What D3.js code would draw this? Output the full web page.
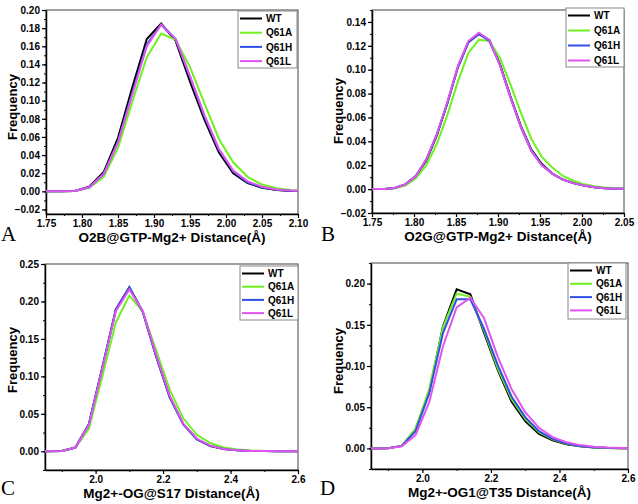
<!DOCTYPE html>
<html>
<head>
<meta charset="utf-8">
<script src="https://cdn.jsdelivr.net/npm/d3@7/dist/d3.min.js"></script>
<style>
  html, body { margin: 0; padding: 0; background: #fff; }
  svg { display: block; }
  .tick text { font-family: "Liberation Sans", Arial, sans-serif; font-weight: bold; font-size: 10px; fill: #000; }
</style>
</head>
<body>
<svg id="chart" width="638" height="504"></svg>
<script>
// ---------- data ----------
const seriesNames = ["WT", "Q61A", "Q61H", "Q61L"];
const seriesColors = ["#000000", "#70f020", "#3050e8", "#e055f0"];

// Panel A: O2B@GTP-Mg2+
const xA = [1.75,1.77,1.79,1.81,1.83,1.85,1.87,1.89,1.91,1.93,1.95,1.97,1.99,2.01,2.03,2.05,2.07,2.09,2.11];
const aWT   = [0,0,0.0005,0.005,0.021,0.059,0.115,0.168,0.185,0.166,0.121,0.079,0.043,0.020,0.009,0.004,0.0015,0.0005,0.0002];
const aQ61A = [0,0,0.0004,0.004,0.016,0.048,0.099,0.148,0.174,0.167,0.137,0.097,0.058,0.032,0.016,0.0075,0.0035,0.0015,0.0007];
const aQ61H = [0,0,0.0005,0.0045,0.019,0.055,0.109,0.162,0.184,0.168,0.126,0.083,0.046,0.022,0.010,0.0045,0.0018,0.0007,0.0003];
const aQ61L = [0,0,0.0005,0.0045,0.019,0.054,0.107,0.160,0.184,0.168,0.127,0.084,0.047,0.023,0.011,0.005,0.002,0.0008,0.0003];
const aXTicks = [1.75,1.80,1.85,1.90,1.95,2.00,2.05,2.10];
const aYTicks = [-0.02,0.00,0.02,0.04,0.06,0.08,0.10,0.12,0.14,0.16,0.18,0.20];

// Panel B: O2G@GTP-Mg2+
const xB = [1.7397,1.7522,1.7647,1.7772,1.7897,1.8022,1.8147,1.8272,1.8397,1.8522,1.8647,1.8772,1.8897,1.9022,1.9147,1.9272,1.9397,1.9522,1.9647,1.9772,1.9897,2.0022,2.0147,2.0272,2.0397,2.0522];
const bWT   = [0,0,0,0.001,0.004,0.011,0.024,0.045,0.072,0.102,0.123,0.130,0.125,0.105,0.078,0.053,0.033,0.021,0.013,0.008,0.005,0.003,0.0015,0.0008,0.0004,0.0002];
const bQ61A = [0,0,0,0.0008,0.003,0.009,0.020,0.038,0.062,0.090,0.114,0.125,0.124,0.110,0.088,0.064,0.042,0.027,0.018,0.011,0.007,0.004,0.0025,0.0013,0.0007,0.0003];
const bQ61H = [0,0,0,0.001,0.004,0.011,0.025,0.046,0.072,0.102,0.123,0.130,0.124,0.104,0.077,0.052,0.032,0.020,0.013,0.008,0.005,0.003,0.0015,0.0008,0.0004,0.0002];
const bQ61L = [0,0,0,0.001,0.004,0.011,0.025,0.046,0.073,0.103,0.124,0.131,0.125,0.104,0.077,0.052,0.032,0.020,0.013,0.008,0.005,0.003,0.0015,0.0008,0.0004,0.0002];
const bXTicks = [1.75,1.80,1.85,1.90,1.95,2.00,2.05];
const bYTicks = [-0.02,0.00,0.02,0.04,0.06,0.08,0.10,0.12,0.14];

// Panel C: Mg2+-OG@S17
const xC = [1.82,1.86,1.90,1.94,1.98,2.02,2.06,2.10,2.14,2.18,2.22,2.26,2.30,2.34,2.38,2.42,2.46,2.50,2.54,2.58,2.62];
const cWT   = [0,0,0.0005,0.005,0.036,0.112,0.189,0.219,0.186,0.126,0.072,0.036,0.016,0.007,0.003,0.0012,0.0005,0.0002,0,0,0];
const cQ61A = [0,0,0.0004,0.005,0.030,0.100,0.172,0.208,0.186,0.134,0.082,0.044,0.022,0.011,0.005,0.0025,0.001,0.0005,0.0002,0,0];
const cQ61H = [0,0,0.0005,0.005,0.036,0.112,0.189,0.219,0.186,0.126,0.072,0.036,0.016,0.0072,0.003,0.0012,0.0005,0.0002,0,0,0];
const cQ61L = [0,0,0.0005,0.005,0.035,0.110,0.187,0.216,0.187,0.128,0.074,0.037,0.017,0.0075,0.003,0.0012,0.0005,0.0002,0,0,0];
const cXTicks = [2.0,2.2,2.4,2.6];
const cYTicks = [0.00,0.05,0.10,0.15,0.20,0.25];

// Panel D: Mg2+-OG1@T35
const xD = [1.82,1.86,1.90,1.94,1.98,2.02,2.06,2.10,2.14,2.18,2.22,2.26,2.30,2.34,2.38,2.42,2.46,2.50,2.54,2.58,2.62];
const dWT   = [0,0,0.0003,0.003,0.023,0.069,0.148,0.193,0.187,0.140,0.095,0.057,0.033,0.0177,0.0097,0.005,0.0025,0.0012,0.0005,0.0002,0];
const dQ61A = [0,0,0.0003,0.003,0.024,0.072,0.147,0.188,0.184,0.143,0.097,0.060,0.036,0.0197,0.011,0.0055,0.003,0.0014,0.0006,0.0002,0];
const dQ61H = [0,0,0.0003,0.003,0.021,0.067,0.140,0.181,0.181,0.145,0.101,0.063,0.038,0.021,0.0117,0.006,0.003,0.0015,0.0007,0.0003,0];
const dQ61L = [0,0,0.0002,0.0025,0.016,0.056,0.124,0.171,0.183,0.158,0.111,0.072,0.044,0.025,0.0137,0.0075,0.004,0.002,0.001,0.0004,0];
const dXTicks = [2.0,2.2,2.4,2.6];
const dYTicks = [0.00,0.05,0.10,0.15,0.20];

const panelLetters = ["A", "B", "C", "D"];
const xTitles = ["O2B@GTP-Mg2+ Distance(Å)", "O2G@GTP-Mg2+ Distance(Å)", "Mg2+-OG@S17 Distance(Å)", "Mg2+-OG1@T35 Distance(Å)"];
const yTitle = "Frequency";

// ---------- layout ----------
const panels = [
  { x: xA, ys: [aWT, aQ61A, aQ61H, aQ61L], xDom: [1.75, 2.10], yDom: [-0.025, 0.20], xt: aXTicks, yt: aYTicks, xMinor: 0.025, yMinor: 0.01,
    l: 46, r: 298, t: 10, b: 214, xf: ".2f", yf: ".2f", leg: { x: 238, y: 11, w: 59, h: 57, dy: 14.2 }, letter: { x: 1, y: 241 }, ytx: 12, yty: 107 },
  { x: xB, ys: [bWT, bQ61A, bQ61H, bQ61L], xDom: [1.75, 2.05], yDom: [-0.02, 0.15], xt: bXTicks, yt: bYTicks, xMinor: 0.025, yMinor: 0.01,
    l: 372, r: 624, t: 10, b: 213, xf: ".2f", yf: ".2f", leg: { x: 566, y: 8, w: 58, h: 59, dy: 15 }, letter: { x: 321, y: 241 }, ytx: 338, yty: 111 },
  { x: xC, ys: [cWT, cQ61A, cQ61H, cQ61L], xDom: [1.85, 2.6], yDom: [-0.025, 0.25], xt: cXTicks, yt: cYTicks, xMinor: 0.1, yMinor: 0.025,
    l: 45, r: 298, t: 264, b: 470, xf: ".1f", yf: ".2f", leg: { x: 240, y: 266, w: 58, h: 54, dy: 13.2 }, letter: { x: 1, y: 495 }, ytx: 12, yty: 360 },
  { x: xD, ys: [dWT, dQ61A, dQ61H, dQ61L], xDom: [1.85, 2.6], yDom: [-0.025, 0.225], xt: dXTicks, yt: dYTicks, xMinor: 0.1, yMinor: 0.025,
    l: 371, r: 628, t: 263, b: 469, xf: ".1f", yf: ".2f", leg: { x: 568, y: 263, w: 58, h: 56, dy: 13.3 }, letter: { x: 320, y: 495 }, ytx: 338, yty: 361 }
];

const svg = d3.select("#chart");
const FONT = "'Liberation Sans', Arial, sans-serif";

panels.forEach((p, i) => {
  const g = svg.append("g");
  const xs = d3.scaleLinear().domain(p.xDom).range([p.l, p.r]);
  const ys = d3.scaleLinear().domain(p.yDom).range([p.b, p.t]);

  const clipId = "clip" + i;
  svg.append("clipPath").attr("id", clipId).append("rect")
    .attr("x", p.l).attr("y", p.t).attr("width", p.r - p.l).attr("height", p.b - p.t);

  // frame
  g.append("rect").attr("x", p.l).attr("y", p.t).attr("width", p.r - p.l).attr("height", p.b - p.t)
    .attr("fill", "none").attr("stroke", "#444").attr("stroke-width", 1);

  // minor ticks
  const xMin = d3.range(Math.ceil(p.xDom[0] / p.xMinor - 1e-6), Math.floor(p.xDom[1] / p.xMinor + 1e-6) + 1).map(k => k * p.xMinor);
  const yMin = d3.range(Math.ceil(p.yDom[0] / p.yMinor - 1e-6), Math.floor(p.yDom[1] / p.yMinor + 1e-6) + 1).map(k => k * p.yMinor);
  g.append("g").attr("transform", `translate(0,${p.b})`)
    .call(d3.axisBottom(xs).tickValues(xMin).tickSize(2).tickFormat(""))
    .call(a => a.select(".domain").remove())
    .call(a => a.selectAll("line").attr("stroke", "#000").attr("stroke-width", 1));
  g.append("g").attr("transform", `translate(${p.l},0)`)
    .call(d3.axisLeft(ys).tickValues(yMin).tickSize(2).tickFormat(""))
    .call(a => a.select(".domain").remove())
    .call(a => a.selectAll("line").attr("stroke", "#000").attr("stroke-width", 1));

  // major axes
  const xa = g.append("g").attr("transform", `translate(0,${p.b})`)
    .call(d3.axisBottom(xs).tickValues(p.xt).tickSize(4).tickPadding(2).tickSizeOuter(0).tickFormat(d3.format(p.xf)));
  const ya = g.append("g").attr("transform", `translate(${p.l},0)`)
    .call(d3.axisLeft(ys).tickValues(p.yt).tickSize(4).tickPadding(2).tickSizeOuter(0).tickFormat(d3.format(p.yf)));
  [xa, ya].forEach(a => {
    a.select(".domain").attr("stroke", "#000").attr("stroke-width", 1.5);
    a.selectAll(".tick line").attr("stroke", "#000").attr("stroke-width", 1.2);
    a.selectAll(".tick text").attr("font-family", FONT).attr("font-weight", "bold").attr("font-size", 10).attr("fill", "#000");
  });

  // lines
  const lineGen = d3.line().x((d, k) => xs(p.x[k])).y(d => ys(d));
  const lg = g.append("g").attr("clip-path", `url(#${clipId})`);
  p.ys.forEach((vals, s) => {
    lg.append("path").datum(vals).attr("d", lineGen)
      .attr("fill", "none").attr("stroke", seriesColors[s]).attr("stroke-width", 2)
      .attr("stroke-linejoin", "miter");
  });

  // legend
  const L = p.leg;
  const lgd = g.append("g");
  lgd.append("rect").attr("x", L.x).attr("y", L.y).attr("width", L.w).attr("height", L.h)
    .attr("fill", "#fff").attr("stroke", "#888").attr("stroke-width", 1);
  seriesNames.forEach((n, s) => {
    const yy = L.y + 7.5 + s * L.dy;
    lgd.append("line").attr("x1", L.x + 2).attr("x2", L.x + 24).attr("y1", yy).attr("y2", yy)
      .attr("stroke", seriesColors[s]).attr("stroke-width", 2);
    lgd.append("text").attr("x", L.x + 28).attr("y", yy + 3.6).text(n)
      .attr("font-family", FONT).attr("font-weight", "bold").attr("font-size", 10).attr("fill", "#000");
  });

  // axis titles
  g.append("text").attr("x", (p.l + p.r) / 2).attr("y", p.b + 27.5).attr("text-anchor", "middle")
    .attr("font-family", FONT).attr("font-weight", "bold").attr("font-size", 13.5).attr("fill", "#000")
    .text(xTitles[i]);
  g.append("text").attr("transform", `translate(${p.ytx + 4.5},${p.yty}) rotate(-90)`)
    .attr("text-anchor", "middle")
    .attr("font-family", FONT).attr("font-weight", "bold").attr("font-size", 13).attr("fill", "#000")
    .text(yTitle);

  // panel letter
  g.append("text").attr("x", p.letter.x).attr("y", p.letter.y)
    .attr("font-family", "'Liberation Serif', 'Times New Roman', serif").attr("font-size", 21).attr("fill", "#000")
    .text(panelLetters[i]);
});
</script>
</body>
</html>
